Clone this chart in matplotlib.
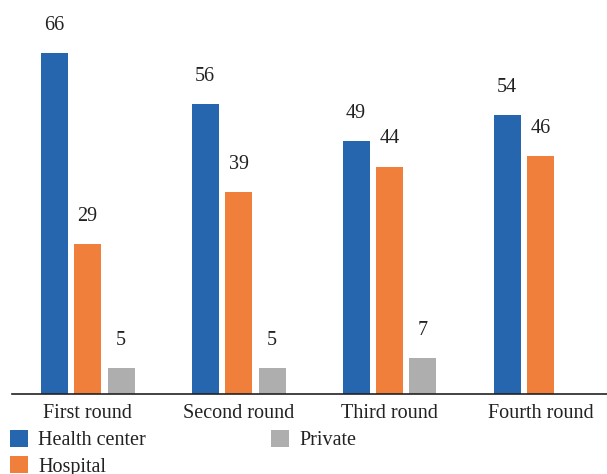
import numpy as np
import matplotlib
matplotlib.use("Agg")
import matplotlib.pyplot as plt

rounds = ["First round", "Second round", "Third round", "Fourth round"]
series = ["Health center", "Hospital", "Private"]
health_center = [66, 56, 49, 54]
hospital = [29, 39, 44, 46]
private = [5, 5, 7, np.nan]
colors = ["#2566AF", "#F07F3C", "#AEAEAE"]

plt.rcParams["font.family"] = ["Liberation Serif", "DejaVu Serif"]

fig = plt.figure(figsize=(6.07, 4.74), dpi=100)
ax = fig.add_axes([12 / 607, 80 / 474, 595 / 607, 394 / 474])

x = np.arange(len(rounds))
width = 27 / 151
step = 33.5 / 151
for i, (name, vals, c) in enumerate(zip(series, [health_center, hospital, private], colors)):
    xs = x + (i - 1) * step
    v = np.array(vals, dtype=float)
    ax.bar(xs, v, width=width, color=c, label=name)
    for xi, vi in zip(xs, v):
        if not np.isnan(vi):
            ax.annotate(f"{int(vi)}", (xi, vi), xytext=(0, 13), textcoords="offset points",
                        ha="center", va="bottom", fontsize=14.5, color="#222222")

ax.set_xlim(-0.5, -0.5 + 595 / 151)
ax.set_ylim(0, 394 / 5.17)
ax.set_xticks(x)
ax.set_xticklabels(rounds, fontsize=14.5, color="#222222")
ax.tick_params(axis="x", length=0, pad=7)
ax.set_yticks([])
for s in ["top", "right", "left"]:
    ax.spines[s].set_visible(False)
ax.spines["bottom"].set_linewidth(1.2)
ax.spines["bottom"].set_color("#222222")

handles, labels = ax.get_legend_handles_labels()
fig.legend(handles, labels, ncol=2, loc="upper left", bbox_to_anchor=(4 / 607, 50 / 474),
           frameon=False, fontsize=14.5, handlelength=0.9, handleheight=0.9,
           handletextpad=0.5, columnspacing=6.2, labelspacing=0.3, borderaxespad=0,
           borderpad=0.3, labelcolor="#222222")

fig.savefig("out.png", dpi=100)
